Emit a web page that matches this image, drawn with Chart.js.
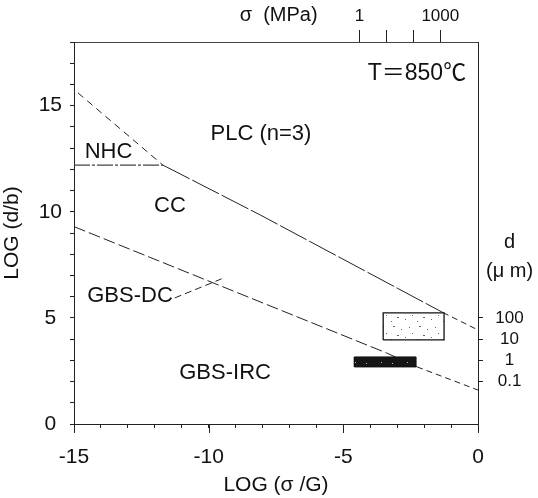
<!DOCTYPE html>
<html><head><meta charset="utf-8">
<script src="https://cdn.jsdelivr.net/npm/chart.js@4.4.1/dist/chart.umd.min.js"></script>
<style>html,body{margin:0;padding:0;background:#fff}canvas{display:block}</style>
</head><body>
<canvas id="c" width="538" height="498"></canvas>
<script>
// ---- data ----
const xMajorTicks = [-15, -10, -5, 0];
const yMajorTicks = [0, 5, 10, 15];
const sigmaTickPos = [-4.4, -3.4, -2.4, -1.4];
const sigmaTickLabels = ['1', '', '', '1000'];
const dTickPos = [5, 4, 3, 2];
const dTickLabels = ['100', '10', '1', '0.1'];

const upperX = [-14.85, -11.7, -8.1, -1.3, 0];
const upperY = [15.6, 12.2, 9.86, 5.25, 4.43];
const lowerX = [-15, -3.4, -2.26, 0];
const lowerY = [9.3, 3.35, 2.69, 1.6];
const nhcX = [-15, -11.7];
const nhcY = [12.2, 12.2];
const leaderX = [-11.26, -9.52];
const leaderY = [5.94, 6.84];
const grayBoxX = [-3.52, -1.26];
const grayBoxY = [3.96, 5.24];
const blackBoxX = [-4.59, -2.3];
const blackBoxY = [2.69, 3.16];

const regionLabels = ['PLC (n=3)', 'NHC', 'CC', 'GBS-DC', 'GBS-IRC'];
const regionLabelX = [-8.06, -13.72, -11.44, -12.92, -9.39];
const regionLabelY = [13.67, 12.82, 10.27, 6.03, 2.40];

// ---- helpers ----
const pts = (xs, ys) => xs.map((x, i) => ({x, y: ys[i]}));
const rect = (xs, ys) => [
  {x: xs[0], y: ys[0]}, {x: xs[1], y: ys[0]}, {x: xs[1], y: ys[1]}, {x: xs[0], y: ys[1]}, {x: xs[0], y: ys[0]}
];
function speckle(bg, fg, dots) {
  const c = document.createElement('canvas'); c.width = 26; c.height = 18;
  const g = c.getContext('2d'); g.fillStyle = bg; g.fillRect(0, 0, 26, 18);
  g.fillStyle = fg; dots.forEach(([a, b, w]) => g.fillRect(a, b, w || 1, 1));
  return g.createPattern(c, 'repeat');
}
const FONT = '"Liberation Sans", Arial, "Noto Sans CJK JP", sans-serif';
const INK = '#222';

const grayPat = speckle('#ffffff', '#666', [[3,2,2],[11,5],[19,3],[7,11,2],[15,13],[22,9],[1,15]]);
const blackPat = speckle('#161616', '#bbb', [[2,3],[9,7,2],[17,2],[21,12],[5,14],[13,10]]);

const overlay = {
  id: 'overlay',
  afterDraw(chart) {
    const {ctx, scales: {x, y}} = chart;
    ctx.save();
    ctx.strokeStyle = INK; ctx.lineWidth = 1;
    xMajorTicks.forEach(v => {
      const px = Math.round(x.getPixelForValue(v)) + 0.5;
      ctx.beginPath(); ctx.moveTo(px, x.top); ctx.lineTo(px, x.top + 9); ctx.stroke();
    });
    ctx.fillStyle = '#111';
    ctx.font = '22px ' + FONT;
    ctx.textAlign = 'center'; ctx.textBaseline = 'middle';
    regionLabels.forEach((t, i) => {
      ctx.fillText(t, x.getPixelForValue(regionLabelX[i]), y.getPixelForValue(regionLabelY[i]));
    });
    ctx.font = '23px ' + FONT;
    ctx.textAlign = 'right';
    ctx.fillText('T\uFF1D850\u2103', x.getPixelForValue(-0.44), y.getPixelForValue(16.49));
    ctx.restore();
  }
};

const lineDs = (data, dashFn, extra) => Object.assign({
  data, showLine: true, pointRadius: 0, borderColor: INK, borderWidth: 1, fill: false,
  segment: {borderDash: dashFn}
}, extra || {});

new Chart(document.getElementById('c'), {
  type: 'scatter',
  data: {
    datasets: [
      {data: rect(blackBoxX, blackBoxY), showLine: true, pointRadius: 0, borderColor: '#111', borderWidth: 1, fill: 'shape', backgroundColor: blackPat},
      {data: rect(grayBoxX, grayBoxY), showLine: true, pointRadius: 0, borderColor: '#111', borderWidth: 1.3, fill: 'shape', backgroundColor: grayPat},
      lineDs(pts(upperX, upperY), c => c.p0DataIndex === 0 ? [7, 5] : (c.p0DataIndex === 3 ? [6, 4] : [30, 3])),
      lineDs(pts(lowerX, lowerY), c => c.p0DataIndex === 2 ? [6, 4] : [12, 4]),
      lineDs(pts(nhcX, nhcY), () => [16, 2, 3, 2], {borderColor: '#444', borderWidth: 1.3}),
      lineDs(pts(leaderX, leaderY), () => [7, 4])
    ]
  },
  options: {
    responsive: false, animation: false, devicePixelRatio: 1,
    layout: {padding: 0},
    plugins: {legend: {display: false}, tooltip: {enabled: false}},
    scales: {
      x: {
        type: 'linear', position: 'bottom', min: -15, max: 0,
        afterFit: s => { s.height = 74; },
        border: {display: true, color: INK, width: 1},
        grid: {drawOnChartArea: false, drawTicks: true, tickLength: 4, color: INK},
        ticks: {stepSize: 1, autoSkip: false, maxRotation: 0, padding: 17, color: '#111',
          font: {family: FONT, size: 21},
          callback: v => xMajorTicks.includes(v) ? String(v) : ''},
        title: {display: true, text: 'LOG (\u03C3 /G)', color: '#111', font: {family: FONT, size: 21}, padding: {top: 0, bottom: 0}}
      },
      x2: {
        type: 'linear', position: 'top', min: -15, max: 0,
        afterFit: s => { s.height = 42; },
        afterBuildTicks: s => { s.ticks = sigmaTickPos.concat([-7.4]).map(v => ({value: v})); },
        border: {display: true, color: '#444', width: 1},
        grid: {drawOnChartArea: false, tickLength: 12, color: c => c.index < sigmaTickPos.length ? INK : 'rgba(0,0,0,0)'},
        ticks: {autoSkip: false, maxRotation: 0, padding: 3, color: '#111',
          font: c => ({family: FONT, size: c.index < sigmaTickPos.length ? 17 : 20}),
          callback: (v, i) => i < sigmaTickLabels.length ? sigmaTickLabels[i] : '\u03C3  (MPa)'}
      },
      y: {
        type: 'linear', position: 'left', min: 0, max: 18,
        afterFit: s => { s.width = 74; },
        border: {display: true, color: INK, width: 1},
        grid: {drawOnChartArea: false, tickLength: 4, color: INK},
        ticks: {stepSize: 1, autoSkip: false, padding: 8, crossAlign: 'center', color: '#111',
          font: {family: FONT, size: 21},
          callback: v => yMajorTicks.includes(v) ? String(v) : ''},
        title: {display: true, text: 'LOG (d/b)', color: '#111', font: {family: FONT, size: 21}, padding: {top: 0, bottom: 8}}
      },
      y2: {
        type: 'linear', position: 'right', min: 0, max: 18,
        afterFit: s => { s.width = 60; },
        afterBuildTicks: s => { s.ticks = dTickPos.concat([7.2, 8.54]).map(v => ({value: v})); },
        border: {display: true, color: INK, width: 1},
        grid: {drawOnChartArea: false, tickLength: 5, color: c => c.index < dTickPos.length ? INK : 'rgba(0,0,0,0)'},
        ticks: {autoSkip: false, padding: 3, crossAlign: 'center', color: '#111',
          font: c => ({family: FONT, size: c.index < dTickPos.length ? 17 : 20}),
          callback: (v, i) => i < dTickLabels.length ? dTickLabels[i] : (i === dTickLabels.length ? '(\u03BC m)' : 'd')}
      }
    }
  },
  plugins: [overlay]
});
</script>
</body></html>
